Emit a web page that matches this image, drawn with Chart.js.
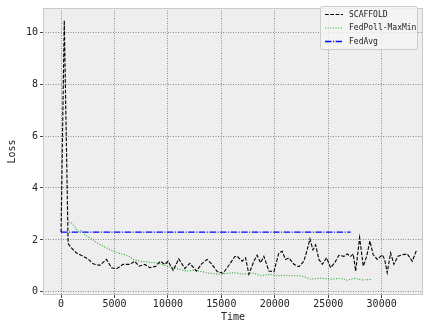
<!DOCTYPE html>
<html>
<head>
<meta charset="utf-8">
<script src="https://cdn.jsdelivr.net/npm/chart.js@4"></script>
<style>
  html, body { margin: 0; padding: 0; background: #fff; }
  #wrap { width: 428px; height: 328px; }
</style>
</head>
<body>
<div id="wrap"><canvas id="lossChart" width="428" height="328"></canvas></div>
<script>
/* ---- data ---- */
const scaffoldTime = [0, 300, 660, 970, 1440, 2060, 2530, 3000, 3620, 4250, 4720, 5190, 5810, 6430, 6900, 7300,
  7840, 8300, 8870, 9300, 9710, 10020, 10490, 11020, 11580, 12050, 12680, 13150, 13670, 14080, 14610, 15170,
  15800, 16260, 16480, 16950, 17270, 17575, 18040, 18350, 18670, 18980, 19450, 19920, 20380, 20690, 21010,
  21320, 21790, 22260, 22720, 23030, 23290, 23570, 23820, 24130, 24440, 24850, 25230, 25600, 26000, 26470,
  26780, 27100, 27340, 27570, 27940, 28280, 28600, 28900, 29210, 29590, 30060, 30280, 30520, 30840, 31150,
  31530, 31930, 32400, 32870, 33240];
const scaffoldLoss = [2.3, 10.45, 1.86, 1.69, 1.5, 1.37, 1.27, 1.08, 1.02, 1.25, 0.93, 0.89, 1.06, 1.06, 1.18, 0.99,
  1.06, 0.93, 0.99, 1.18, 1.06, 1.18, 0.83, 1.27, 0.9, 1.1, 0.8, 1.08, 1.25, 1.08, 0.78, 0.72,
  1.08, 1.36, 1.37, 1.18, 1.31, 0.68, 1.18, 1.41, 1.12, 1.37, 0.8, 0.78, 1.5, 1.56, 1.25,
  1.31, 1.06, 0.97, 1.18, 1.62, 2.04, 1.62, 1.81, 1.25, 1.06, 1.31, 0.93, 1.12, 1.41, 1.37,
  1.46, 1.37, 1.46, 0.8, 2.09, 0.99, 1.37, 1.96, 1.43, 1.25, 1.43, 1.25, 0.74, 1.5, 1.06,
  1.37, 1.43, 1.46, 1.18, 1.58];

const fedpollTime = [720, 1000, 1280, 1590, 1900, 2220, 2850, 3470, 4090, 4720, 5340, 5960, 6430, 6740, 7370,
  7840, 8300, 8770, 9240, 9870, 10490, 11110, 11740, 12360, 12990, 13610, 14230, 14920, 15300, 16170, 16800,
  17420, 17880, 18670, 19600, 20220, 20850, 21480, 22410, 22880, 23350, 24290, 25230, 26160, 26780, 27410,
  28180, 29030];
const fedpollLoss = [2.69, 2.65, 2.5, 2.34, 2.36, 2.2, 2.05, 1.86, 1.73, 1.6, 1.5, 1.43, 1.35, 1.25, 1.18,
  1.16, 1.14, 1.12, 1.09, 0.99, 0.93, 0.87, 0.8, 0.83, 0.8, 0.74, 0.7, 0.68, 0.7, 0.74, 0.7,
  0.68, 0.74, 0.62, 0.68, 0.62, 0.64, 0.62, 0.62, 0.56, 0.49, 0.53, 0.49, 0.52, 0.45, 0.52,
  0.46, 0.48];

const fedavgTime = [0, 27100];
const fedavgLoss = [2.3, 2.3];

const xTicks = [0, 5000, 10000, 15000, 20000, 25000, 30000];
const yTicks = [0, 2, 4, 6, 8, 10];

const MONO = "'DejaVu Sans Mono', monospace";

function points(ts, vs){ return ts.map((t, i) => ({ x: t, y: vs[i] })); }

/* grey plot area + light frame */
const areaPlugin = {
  id: 'area',
  beforeDraw(chart){
    const { ctx, chartArea: a } = chart;
    ctx.save();
    ctx.fillStyle = '#eeeeee';
    ctx.fillRect(a.left, a.top, a.right - a.left, a.bottom - a.top);
    ctx.restore();
  },
  afterDraw(chart){
    const { ctx, chartArea: a } = chart;
    ctx.save();
    ctx.strokeStyle = '#c8c8c8';
    ctx.lineWidth = 1;
    ctx.strokeRect(a.left + 0.5, a.top + 0.5, a.right - a.left - 1, a.bottom - a.top - 1);
    ctx.restore();
  }
};

/* matplotlib-like legend in the upper right */
const legendPlugin = {
  id: 'mplLegend',
  afterDraw(chart){
    const { ctx } = chart;
    const x0 = 320, y0 = 6, w = 97, h = 43;
    ctx.save();
    ctx.fillStyle = 'rgba(245,245,245,0.85)';
    ctx.strokeStyle = '#cccccc';
    ctx.lineWidth = 1;
    ctx.beginPath();
    ctx.roundRect(x0 + 0.5, y0 + 0.5, w, h, 2);
    ctx.fill();
    ctx.stroke();
    ctx.font = '8px ' + MONO;
    ctx.textBaseline = 'middle';
    chart.data.datasets.forEach((ds, i) => {
      const y = y0 + 8.5 + i * 13.5;
      ctx.strokeStyle = ds.borderColor;
      ctx.lineWidth = ds.borderWidth;
      ctx.setLineDash(ds.borderDash);
      ctx.beginPath();
      ctx.moveTo(x0 + 5, y);
      ctx.lineTo(x0 + 23, y);
      ctx.stroke();
      ctx.setLineDash([]);
      ctx.fillStyle = '#222';
      ctx.fillText(ds.label, x0 + 29, y);
    });
    ctx.restore();
  }
};

new Chart(document.getElementById('lossChart'), {
  type: 'line',
  data: {
    datasets: [
      { label: 'SCAFFOLD', data: points(scaffoldTime, scaffoldLoss), borderColor: '#000000',
        borderWidth: 1.1, borderDash: [3.7, 1.6] },
      { label: 'FedPoll-MaxMin', data: points(fedpollTime, fedpollLoss), borderColor: '#1fa81f',
        borderWidth: 1.1, borderDash: [1, 1.65] },
      { label: 'FedAvg', data: points(fedavgTime, fedavgLoss), borderColor: '#0000ff',
        borderWidth: 1.4, borderDash: [6.4, 1.6, 1, 1.6] }
    ]
  },
  options: {
    responsive: false,
    animation: false,
    layout: { padding: { top: 3, right: 5, left: 0, bottom: 0 } },
    elements: { point: { radius: 0 }, line: { tension: 0, fill: false } },
    plugins: { legend: { display: false }, tooltip: { enabled: false } },
    scales: {
      x: {
        type: 'linear',
        min: -1690, max: 33870,
        afterBuildTicks: (s) => { s.ticks = xTicks.map(v => ({ value: v })); },
        afterFit: (s) => { s.height = 33; },
        ticks: { color: '#222', font: { family: MONO, size: 10 }, padding: 0, maxRotation: 0,
          callback: (v) => String(v) },
        grid: { color: '#8c8c8c', lineWidth: 1, tickLength: 3, tickColor: '#444', tickBorderDash: [] },
        border: { display: false, dash: [1, 1.5] },
        title: { display: true, text: 'Time', color: '#222', font: { family: MONO, size: 10 },
          padding: { top: 0, bottom: 5 } }
      },
      y: {
        type: 'linear',
        min: -0.12, max: 10.93,
        afterBuildTicks: (s) => { s.ticks = yTicks.map(v => ({ value: v })); },
        afterFit: (s) => { s.width = 43; },
        ticks: { color: '#222', font: { family: MONO, size: 10 }, padding: 2 },
        grid: { color: '#8c8c8c', lineWidth: 1, tickLength: 3, tickColor: '#444', tickBorderDash: [] },
        border: { display: false, dash: [1, 1.5] },
        title: { display: true, text: 'Loss', color: '#222', font: { family: MONO, size: 10 },
          padding: { top: 6, bottom: 0 } }
      }
    }
  },
  plugins: [areaPlugin, legendPlugin]
});
</script>
</body>
</html>
